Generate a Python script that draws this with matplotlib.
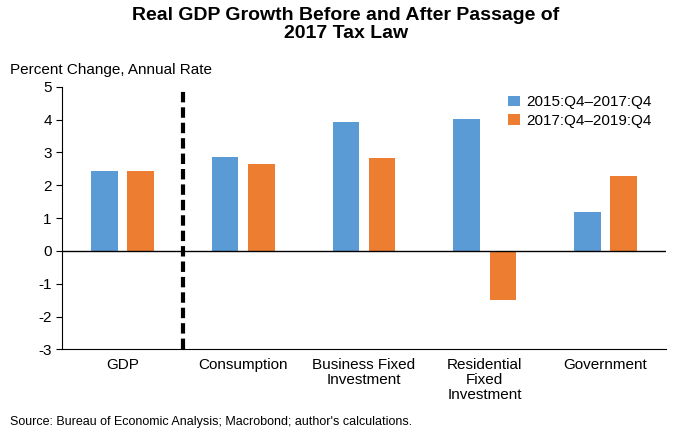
import matplotlib.pyplot as plt
import numpy as np

plt.rcParams['font.family'] = ['Liberation Sans', 'DejaVu Sans']
plt.rcParams['axes.unicode_minus'] = False

categories = ["GDP", "Consumption", "Business Fixed\nInvestment",
              "Residential\nFixed\nInvestment", "Government"]
before = [2.42, 2.86, 3.92, 4.01, 1.18]
after = [2.42, 2.64, 2.83, -1.49, 2.28]
labels = ["2015:Q4\u20132017:Q4", "2017:Q4\u20132019:Q4"]

fig = plt.figure(figsize=(6.92, 4.34), dpi=100)
ax = fig.add_axes([0.09, 0.195, 0.872, 0.605])

x = np.arange(len(categories))
w = 0.22
ax.bar(x - 0.15, before, w, color="#5B9BD5", label=labels[0])
ax.bar(x + 0.15, after, w, color="#ED7D31", label=labels[1])

ax.axhline(0, color="black", lw=1)
ax.axvline(0.5, color="black", lw=3, ls=(0, (2.5, 1.2)))

ax.set_xlim(-0.5, 4.5)
ax.set_ylim(-3, 5)
ax.set_yticks(range(-3, 6))
ax.set_xticks(x)
ax.set_xticklabels(categories, fontsize=11, va="top", linespacing=1.1)
ax.tick_params(axis="x", length=0, pad=6)
ax.tick_params(axis="y", labelsize=11, direction="out", length=4)
for s in ["top", "right"]:
    ax.spines[s].set_visible(False)

ax.legend(loc="upper right", bbox_to_anchor=(1.0, 1.02), frameon=False,
          fontsize=11, handlelength=0.8, handletextpad=0.4, labelspacing=0.3)

fig.text(0.5, 0.985, "Real GDP Growth Before and After Passage of\n2017 Tax Law",
         ha="center", va="top", fontsize=14, fontweight="bold", linespacing=1.15)
fig.text(0.015, 0.83, "Percent Change, Annual Rate", fontsize=11)
fig.text(0.015, 0.02, "Source: Bureau of Economic Analysis; Macrobond; author's calculations.",
         fontsize=9)

fig.savefig("out.png", dpi=100)
